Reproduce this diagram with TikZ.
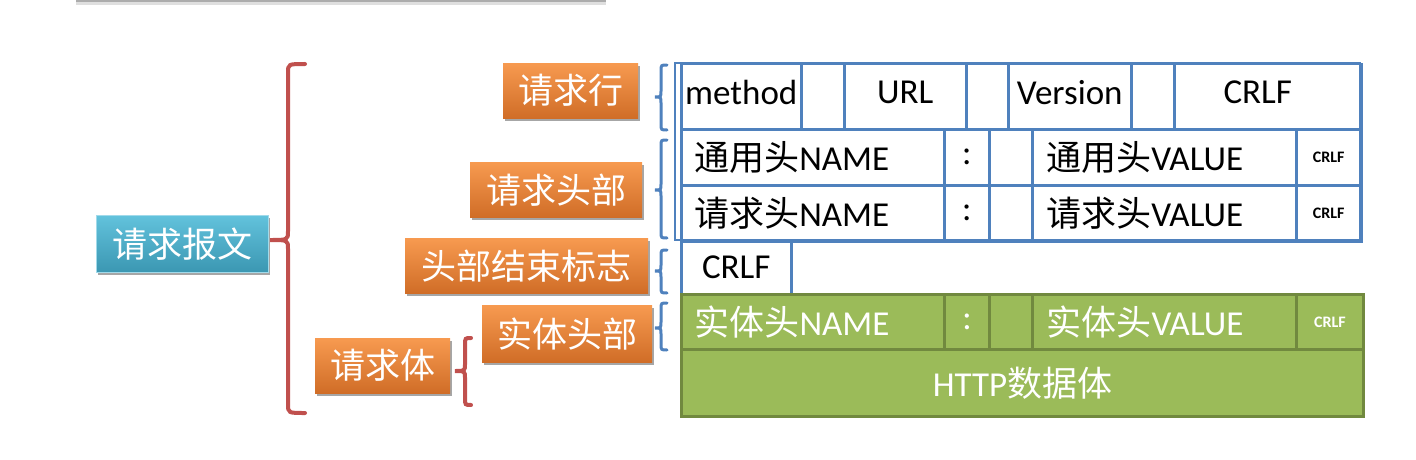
\documentclass[tikz,border=0pt]{standalone}
\usepackage{fontspec}
\setmainfont{Carlito}
\newfontfamily\cjk{Noto Sans CJK SC}
\usetikzlibrary{shadows}
\definecolor{tblue}{HTML}{4F81BD}
\definecolor{tred}{HTML}{C0504D}
\definecolor{tgreen}{HTML}{9BBB59}
\definecolor{tgreend}{HTML}{71893F}
\definecolor{orT}{HTML}{F79A50}
\definecolor{orB}{HTML}{D06D27}
\definecolor{blT}{HTML}{62C2DC}
\definecolor{blB}{HTML}{3B97B2}
\newcommand\mkbrace[8]{\draw[#1] (#2,#5) .. controls (#3,#5) .. (#3,#5+#8) -- (#3,#6-#8) .. controls (#3,#6) .. (#4,#6) .. controls (#3,#6) .. (#3,#6+#8) -- (#3,#7-#8) .. controls (#3,#7) .. (#2,#7);}
\begin{document}
\begin{tikzpicture}[x=1pt,y=-1pt,
  lbl/.style={inner sep=0pt, anchor=north west, text=white,
    font=\cjk\fontsize{35}{40}\selectfont,
    drop shadow={shadow xshift=1.5pt, shadow yshift=-3pt, opacity=0.35, fill=black}},
  orangebox/.style={lbl, top color=orT, bottom color=orB},
  bluebox/.style={lbl, top color=blT, bottom color=blB, draw=blT!60!white, line width=0.8pt},
  cell/.style={draw=tblue, line width=2.5pt, inner sep=0pt, anchor=north west,
    font=\fontsize{35}{40}\selectfont, text=black},
  rowone/.style={cell, minimum height=65pt, text depth=9pt},
  gcell/.style={cell, draw=tgreend, fill=tgreen, line width=3pt, text=white},
  lcell/.style={text width=#1, align=left},
  small/.style={font=\bfseries\fontsize{16}{18}\selectfont},
  bbrace/.style={draw=tblue, line width=3pt, line cap=round},
  rbrace/.style={draw=tred, line width=4pt, line cap=round}
]
\useasboundingbox (0,0) rectangle (1416,460);
% top bar
\fill[gray!25] (76,1) rectangle (606,5);
\fill[gray!65] (76,0) rectangle (606,2.5);

% left label boxes
\node[bluebox, minimum width=172pt, minimum height=57pt] (msg) at (96,215) {请求报文};
\node[orangebox, minimum width=135pt, minimum height=55pt] (reqline) at (503,63) {请求行};
\node[orangebox, minimum width=172pt, minimum height=55pt] (reqhead) at (470,162) {请求头部};
\node[orangebox, minimum width=243pt, minimum height=55pt] (hdrend) at (405,238) {头部结束标志};
\node[orangebox, minimum width=170pt, minimum height=57pt] (enthead) at (482,305) {实体头部};
\node[orangebox, minimum width=135pt, minimum height=55pt] (reqbody) at (315,338) {请求体};

% braces
\mkbrace{rbrace}{305}{288}{270}{64}{240}{413}{9}
\mkbrace{rbrace}{471}{465}{455}{338}{371}{405}{7}
\mkbrace{bbrace}{667}{661}{655}{65}{97}{130}{6}
\mkbrace{bbrace}{667}{661}{655}{140}{190}{238}{6}
\mkbrace{bbrace}{667}{661}{655}{250}{271}{293}{6}
\mkbrace{bbrace}{667}{661}{655}{303}{328}{350}{6}

% request line
\node[rowone, minimum width=120pt] (method) at (680,63) {method};
\node[rowone, minimum width=43pt] (sp1) at (800,63) {};
\node[rowone, minimum width=122pt] (url) at (843,63) {URL};
\node[rowone, minimum width=42pt] (sp2) at (965,63) {};
\node[rowone, minimum width=123pt] (ver) at (1007,63) {Version};
\node[rowone, minimum width=43pt] (sp3) at (1130,63) {};
\node[rowone, minimum width=187pt, text width=167pt, align=center, inner xsep=0pt] (crlf1) at (1173,63) {CRLF\hspace*{20pt}};

% general header
\node[cell, lcell=237pt, minimum width=263pt, minimum height=56pt, inner xsep=13pt] (gname) at (680,128) {{\cjk 通用头}NAME};
\node[cell, minimum width=45pt, minimum height=56pt] (gcol) at (943,128) {:};
\node[cell, minimum width=43pt, minimum height=56pt] (gsp) at (988,128) {};
\node[cell, lcell=236pt, minimum width=264pt, minimum height=56pt, inner xsep=14pt] (gval) at (1031,128) {{\cjk 通用头}VALUE};
\node[cell, small, minimum width=65pt, minimum height=56pt] (gcrlf) at (1295,128) {CRLF};

% request header
\node[cell, lcell=237pt, minimum width=263pt, minimum height=56pt, inner xsep=13pt] (rname) at (680,184) {{\cjk 请求头}NAME};
\node[cell, minimum width=45pt, minimum height=56pt] (rcol) at (943,184) {:};
\node[cell, minimum width=43pt, minimum height=56pt] (rsp) at (988,184) {};
\node[cell, lcell=236pt, minimum width=264pt, minimum height=56pt, inner xsep=14pt] (rval) at (1031,184) {{\cjk 请求头}VALUE};
\node[cell, small, minimum width=65pt, minimum height=56pt] (rcrlf) at (1295,184) {CRLF};

% outer border of header table
\draw[draw=tblue, line width=2.5pt] (675,63) rectangle (1360,240);

% end of headers
\node[cell, minimum width=110pt, minimum height=53pt] (endcrlf) at (680,240) {CRLF};

% entity header
\node[gcell, lcell=237pt, minimum width=263pt, minimum height=55pt, inner xsep=13pt] (ename) at (680,293) {{\cjk 实体头}NAME};
\node[gcell, minimum width=45pt, minimum height=55pt] (ecol) at (943,293) {:};
\node[gcell, minimum width=43pt, minimum height=55pt] (esp) at (988,293) {};
\node[gcell, lcell=236pt, minimum width=264pt, minimum height=55pt, inner xsep=14pt] (eval) at (1031,293) {{\cjk 实体头}VALUE};
\node[gcell, small, minimum width=67pt, minimum height=55pt] (ecrlf) at (1295,293) {CRLF};

% body
\node[gcell, minimum width=682pt, minimum height=67pt] (body) at (680,348) {HTTP{\cjk 数据体}};
\end{tikzpicture}
\end{document}
